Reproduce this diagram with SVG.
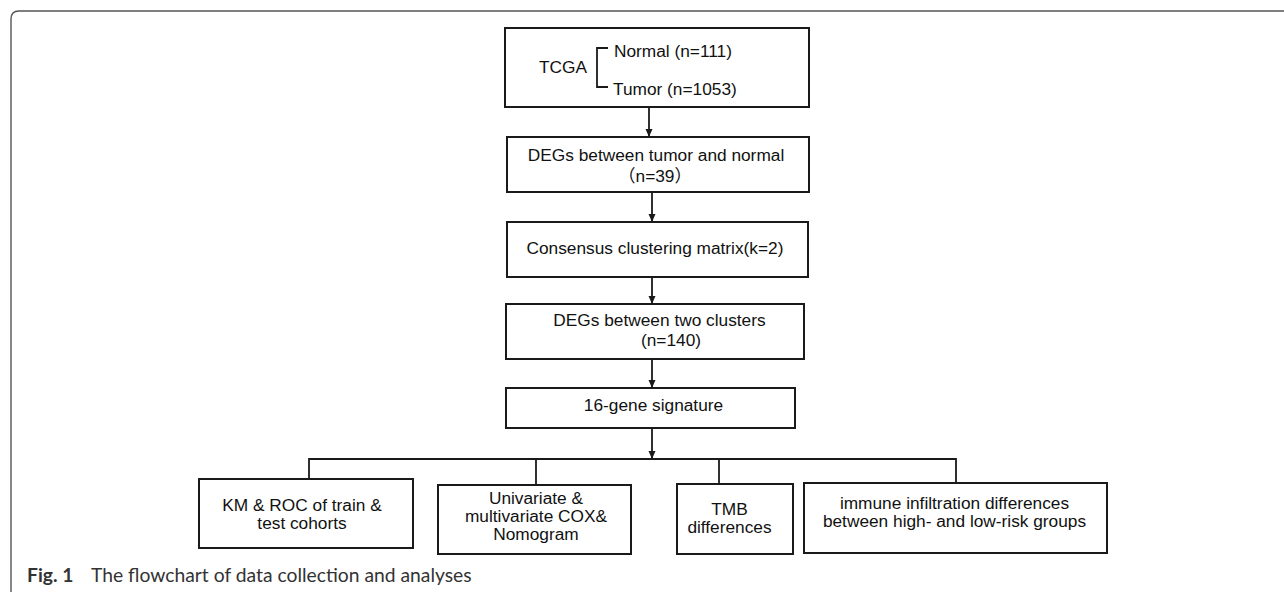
<svg xmlns="http://www.w3.org/2000/svg" width="1284" height="594" viewBox="0 0 1284 594">
<defs>
<style>
.box{fill:#fff;stroke:#1a1a1a;stroke-width:2}
.t{font-family:"Liberation Sans",Arial,"Noto Sans CJK SC",sans-serif;font-size:17.3px;fill:#111}
.c{text-anchor:middle}
.ln{fill:none;stroke:#1a1a1a;stroke-width:1.8}
.cap{font-family:"Lato","Open Sans",sans-serif;font-size:19.3px;fill:#333}
</style>
<marker id="ah" markerUnits="userSpaceOnUse" markerWidth="8" markerHeight="10" refX="7" refY="3.5" orient="auto">
<path d="M0,0 L8,3.5 L0,7 Z" fill="#1a1a1a"/>
</marker>
</defs>
<rect width="1284" height="594" fill="#fff"/>
<path d="M11,592 V19 Q11,11 19,11 H1284" fill="none" stroke="#555" stroke-width="1.4"/>

<g id="n1">
<rect class="box" x="505" y="28" width="304" height="79"/>
<text class="t" x="539" y="73">TCGA</text>
<path class="ln" d="M608,48 H597 V87 H608"/>
<text class="t" x="614" y="57">Normal (n=111)</text>
<text class="t" x="613" y="95">Tumor (n=1053)</text>
</g>
<g id="n2">
<rect class="box" x="507" y="137" width="302" height="55"/>
<text class="t c" x="656" y="161">DEGs between tumor and normal</text>
<text class="t c" x="655" y="182">（n=39）</text>
</g>
<g id="n3">
<rect class="box" x="507" y="222" width="301" height="55"/>
<text class="t c" x="655" y="254">Consensus clustering matrix(k=2)</text>
</g>
<g id="n4">
<rect class="box" x="506" y="304" width="298" height="55"/>
<text class="t c" x="659.5" y="326">DEGs between two clusters</text>
<text class="t c" x="671" y="346">(n=140)</text>
</g>
<g id="n5">
<rect class="box" x="506" y="388" width="289" height="40"/>
<text class="t c" x="653.5" y="411">16-gene signature</text>
</g>
<g id="n6">
<rect class="box" x="199" y="479" width="214" height="69"/>
<text class="t c" x="302" y="511">KM &amp; ROC of train &amp;</text>
<text class="t c" x="302" y="529">test cohorts</text>
</g>
<g id="n7">
<rect class="box" x="438" y="485" width="193" height="69"/>
<text class="t c" x="536" y="504">Univariate &amp;</text>
<text class="t c" x="536" y="522">multivariate COX&amp;</text>
<text class="t c" x="536" y="540">Nomogram</text>
</g>
<g id="n8">
<rect class="box" x="677" y="484" width="116" height="70"/>
<text class="t c" x="729.5" y="515">TMB</text>
<text class="t c" x="729.5" y="533">differences</text>
</g>
<g id="n9">
<rect class="box" x="804" y="483" width="303" height="70"/>
<text class="t c" x="954.5" y="509">immune infiltration differences</text>
<text class="t c" x="954.5" y="527">between high- and low-risk groups</text>
</g>

<g id="connectors">
<line class="ln" x1="649" y1="107" x2="649" y2="136" marker-end="url(#ah)"/>
<line class="ln" x1="652" y1="192" x2="652" y2="221" marker-end="url(#ah)"/>
<line class="ln" x1="652" y1="277" x2="652" y2="303" marker-end="url(#ah)"/>
<line class="ln" x1="652" y1="359" x2="652" y2="387" marker-end="url(#ah)"/>
<line class="ln" x1="652" y1="428" x2="652" y2="458" marker-end="url(#ah)"/>
<path class="ln" d="M309,479 V459 H956 V483"/>
<line class="ln" x1="536" y1="459" x2="536" y2="485"/>
<line class="ln" x1="719" y1="459" x2="719" y2="484"/>
</g>

<text class="cap" x="27" y="582"><tspan font-weight="bold">Fig. 1</tspan><tspan x="91">The flowchart of data collection and analyses</tspan></text>
</svg>
